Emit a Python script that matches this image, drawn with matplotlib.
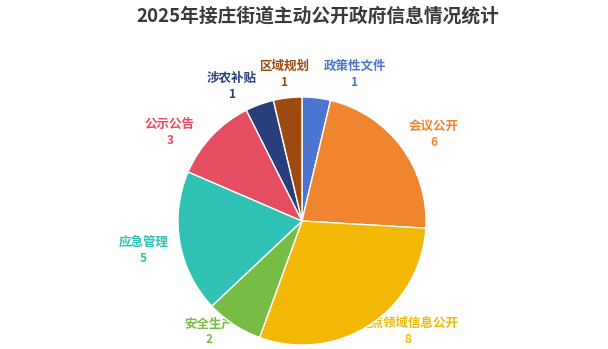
import numpy as np
import matplotlib
matplotlib.use("Agg")
from matplotlib import pyplot as plt

plt.rcParams['font.family'] = ['Noto Sans CJK SC', 'DejaVu Sans']

title = "2025年接庄街道主动公开政府信息情况统计"
names = ["政策性文件", "会议公开", "重点领域信息公开", "安全生产",
         "应急管理", "公示公告", "涉农补贴", "区域规划"]
counts = [1, 6, 8, 2, 5, 3, 1, 1]
colors = ["#4A75D1", "#F0852F", "#F3B805", "#77BC44",
          "#30C1B5", "#E44D62", "#283F7C", "#9C4A10"]

# small slices at the top get nudged apart so labels don't collide (degrees)
nudge = [13, 3, -10.8, 7, 0, -9, -7.2, 0]
label_r = [1.27, 1.28, 1.228, 1.16, 1.30, 1.29, 1.234, 1.20]

fig = plt.figure(figsize=(6.08, 3.49), dpi=100)
R = 124.0  # pie radius in pixels
cx, cy = 302.0, 128.0
ax = fig.add_axes([(cx - 220) / 608, 0, 440 / 608, 2 * cy / 349])

wedges, _ = ax.pie(counts, colors=colors, startangle=90, counterclock=False,
                   wedgeprops=dict(edgecolor="white", linewidth=1.0, zorder=3))
ax.set_xlim(-220 / R, 220 / R)
ax.set_ylim(-cy / R, cy / R)
ax.set_aspect('auto')
ax.axis('off')

total = sum(counts)
start = 0
for i, (n, v) in enumerate(zip(names, counts)):
    mid = (start + v / 2) / total * 360 + nudge[i]
    start += v
    a = np.deg2rad(90 - mid)
    x = label_r[i] * np.cos(a)
    y = label_r[i] * np.sin(a)
    ax.text(x, y + 0.055, n, color=colors[i], fontsize=9, fontweight='bold',
            ha='center', va='center', zorder=1)
    ax.text(x, y - 0.075, str(v), color=colors[i], fontsize=8.5, fontweight='bold',
            ha='center', va='center', zorder=1)

fig.text(318 / 608, 1 - 16 / 349, title, ha='center', va='center',
         fontsize=13.5, fontweight='bold', color='#3a3a3a')

fig.savefig("out.png", dpi=100)
